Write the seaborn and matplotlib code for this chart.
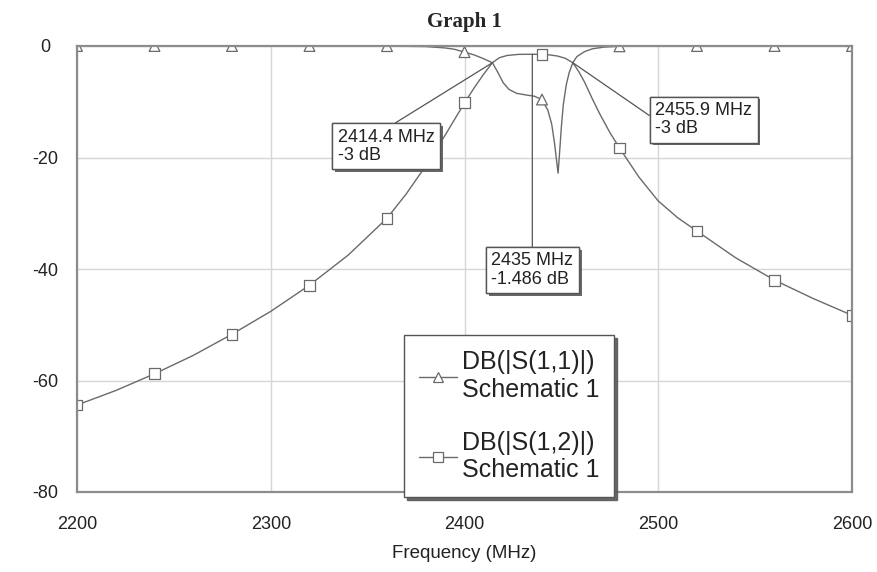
import numpy as np
import pandas as pd
import matplotlib
matplotlib.use("Agg")
import matplotlib.pyplot as plt
import matplotlib.patheffects as pe
from matplotlib.lines import Line2D
import seaborn as sns

# S11 (return loss)
s11_freq = [2200, 2240, 2280, 2320, 2360, 2380, 2390, 2395, 2400, 2405, 2410, 2414.4,
            2417, 2420, 2423, 2427, 2432, 2436, 2440, 2443, 2445, 2446.5, 2447.5, 2448.3,
            2449, 2450, 2451, 2452.5, 2454, 2455.9, 2458, 2462, 2466, 2472, 2480,
            2520, 2560, 2600]
s11_db = [0, 0, 0, 0, -0.02, -0.1, -0.35, -0.6, -1.1, -1.6, -2.3, -3.0,
          -4.6, -6.6, -7.8, -8.5, -8.8, -9.0, -9.6, -11.5, -14.0, -17.5, -20.5, -22.8,
          -19.5, -14.5, -10.5, -7.0, -4.8, -3.0, -1.9, -1.0, -0.5, -0.2, -0.05,
          0, 0, 0]

# S12 (insertion loss)
s12_freq = [2200, 2220, 2240, 2260, 2280, 2300, 2320, 2340, 2360, 2370, 2380, 2390,
            2400, 2405, 2410, 2414.4, 2418, 2422, 2428, 2435, 2440, 2444, 2448, 2452,
            2455.9, 2459, 2462, 2466, 2470, 2475, 2480, 2490, 2500, 2510, 2520, 2540,
            2560, 2580, 2600]
s12_db = [-64.4, -61.8, -58.8, -55.5, -51.7, -47.6, -42.9, -37.5, -30.9, -26.5, -21.5, -16.0,
          -10.2, -7.5, -5.0, -3.0, -2.1, -1.7, -1.5, -1.486, -1.5, -1.6, -1.8, -2.2,
          -3.0, -4.6, -6.5, -9.5, -12.3, -15.5, -18.3, -23.5, -27.8, -30.8, -33.2, -38.0,
          -42.0, -45.3, -48.3]

marker_freq = [2200, 2240, 2280, 2320, 2360, 2400, 2440, 2480, 2520, 2560, 2600]

mk_freq = [2414.4, 2435, 2455.9]
mk_db = [-3, -1.486, -3]

x_ticks = [2200, 2300, 2400, 2500, 2600]
y_ticks = [0, -20, -40, -60, -80]
legend_labels = ["DB(|S(1,1)|)\nSchematic 1", "DB(|S(1,2)|)\nSchematic 1"]

LINE = "#6a6a6a"
SPINE = "#8c8c8c"

df = pd.concat([
    pd.DataFrame({"freq": s11_freq, "db": s11_db, "trace": "S11"}),
    pd.DataFrame({"freq": s12_freq, "db": s12_db, "trace": "S12"}),
], ignore_index=True)
df_m = df[df["freq"].isin(marker_freq)]

sns.set_theme(style="white")
plt.rcParams["font.family"] = ["Liberation Sans", "DejaVu Sans"]
plt.rcParams["axes.unicode_minus"] = False

fig = plt.figure(figsize=(8.78, 5.72), dpi=100)
ax = fig.add_axes([77 / 878, 1 - 492 / 572, 775 / 878, 446 / 572])

sns.lineplot(data=df, x="freq", y="db", hue="trace", palette={"S11": LINE, "S12": LINE},
             sort=False, estimator=None, legend=False, lw=1.0, ax=ax, zorder=3)
sns.scatterplot(data=df_m, x="freq", y="db", style="trace",
                markers={"S11": "^", "S12": "s"}, color="white", edgecolor=LINE,
                linewidth=0.9, s=60, legend=False, ax=ax, zorder=4)

ax.set_xlim(2200, 2600)
ax.set_ylim(-80, 0)
ax.set_xticks(x_ticks)
ax.set_yticks(y_ticks)
ax.grid(True, color="#d6d6d6", lw=1)
for s in ax.spines.values():
    s.set_color(SPINE)
    s.set_linewidth(1.6)
    s.set_visible(True)
    s.set_zorder(5)
ax.tick_params(axis="both", length=0, labelsize=13, colors="#222222")
ax.tick_params(axis="y", pad=23)
ax.tick_params(axis="x", pad=17)
for lbl in ax.get_yticklabels():
    lbl.set_ha("center")

ax.set_xlabel("Frequency (MHz)", fontsize=13.5, color="#222222")
ax.xaxis.set_label_coords(0.5, -0.118)
ax.set_ylabel("")
ax.set_title("Graph 1", fontfamily="Liberation Serif", fontweight="bold",
             fontsize=15, pad=14)

# marker readouts (box centre in data coords, leader anchor on the box)
box_x = [2359.5, 2435.0, 2523.5]
box_y = [-18.0, -40.2, -13.2]
rel = [(0.5, 1.0), (0.5, 1.0), (0.0, 0.5)]
for f, d, tx, ty, rp in zip(mk_freq, mk_db, box_x, box_y, rel):
    ann = ax.annotate(f"{f:g} MHz\n{d:g} dB", xy=(f, d), xytext=(tx, ty),
                      textcoords="data", ha="center", va="center", fontsize=13,
                      linespacing=1.1, color="#222222", zorder=6,
                      bbox=dict(boxstyle="square,pad=0.3", fc="white", ec="#555555", lw=1),
                      arrowprops=dict(arrowstyle="-", color="#555555", lw=0.9,
                                      relpos=rp, shrinkA=0, shrinkB=0),
                      annotation_clip=False)
    ann.set_multialignment("left")
    ann.get_bbox_patch().set_path_effects(
        [pe.withSimplePatchShadow(offset=(2, -2), shadow_rgbFace="0.35", alpha=0.9), pe.Normal()])

handles = [
    Line2D([0], [0], color=LINE, lw=1, marker="^", ms=7, mfc="white", mec=LINE, mew=0.9),
    Line2D([0], [0], color=LINE, lw=1, marker="s", ms=7, mfc="white", mec=LINE, mew=0.9),
]
leg = ax.legend(handles, legend_labels, loc="upper left", bbox_to_anchor=(0.422, 0.352),
                fontsize=18, frameon=True, fancybox=False, handlelength=1.5,
                handletextpad=0.2, labelspacing=1.15, borderpad=0.6,
                borderaxespad=0, shadow={"color": "0.35", "alpha": 0.9})
leg.get_frame().set_edgecolor("#555555")
leg.get_frame().set_linewidth(1)
leg.set_zorder(7)
for t in leg.get_texts():
    t.set_color("#222222")

fig.savefig("out.png", dpi=100)
